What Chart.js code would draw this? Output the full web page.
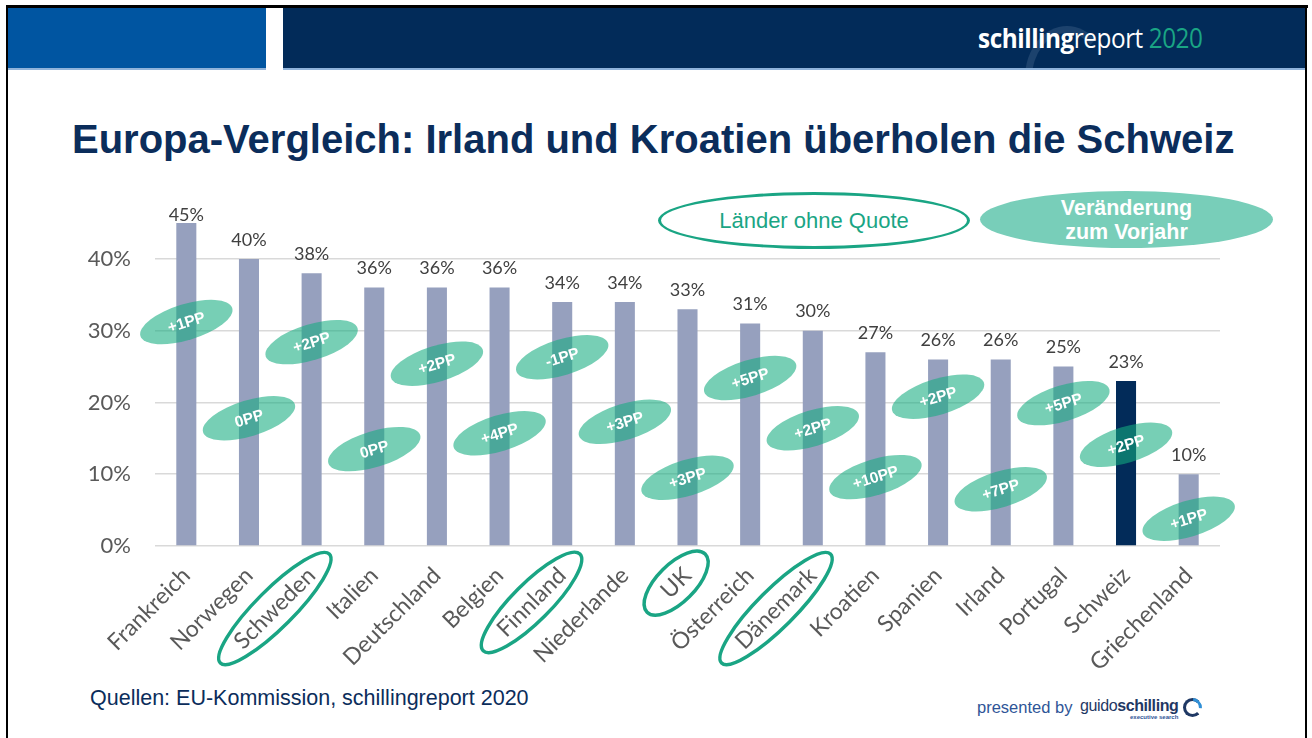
<!DOCTYPE html>
<html><head><meta charset="utf-8">
<script src="https://cdn.jsdelivr.net/npm/chart.js@4.4.0/dist/chart.umd.min.js"></script>
<style>
html,body{margin:0;padding:0;background:#fff;}
#page{position:relative;width:1312px;height:738px;overflow:hidden;background:#fff;font-family:"Liberation Sans",Arial,sans-serif;}
.abs{position:absolute;}
#title{left:72px;top:117px;font-weight:bold;font-size:40px;color:#0B2D5B;white-space:nowrap;}
#legQ{left:658px;top:192px;width:306px;height:51px;border:3px solid #1AA584;border-radius:50%;color:#1AA584;font-size:22px;display:flex;align-items:center;justify-content:center;}
#legV{left:980px;top:191px;width:293px;height:57px;background:#78CEB9;border-radius:50%;color:#fff;font-weight:bold;font-size:21.5px;line-height:24px;text-align:center;display:flex;align-items:center;justify-content:center;}
#src{left:90px;top:686px;font-size:21.5px;color:#0B2D5B;white-space:nowrap;}
#pres{left:977px;top:698px;font-size:16.5px;color:#2F5597;white-space:nowrap;}
#brand{left:1080px;top:697px;font-size:16px;color:#1F3864;white-space:nowrap;letter-spacing:-0.4px}
#exec{left:1130px;top:714px;font-size:6px;color:#2F5597;font-weight:bold;}
#hdrTxt{left:978px;top:19px;font-family:"Open Sans",sans-serif;font-size:27px;color:#fff;white-space:nowrap;transform:scaleX(0.9);transform-origin:left top;letter-spacing:-0.5px}
canvas{position:absolute;left:0;top:0;}
</style></head>
<body>
<div id="page">
  <div class="abs" style="left:6px;top:5px;width:1302px;height:3px;background:#000"></div>
  <div class="abs" style="left:6px;top:5px;width:2px;height:733px;background:#000"></div>
  <div class="abs" style="left:1305px;top:5px;width:2px;height:733px;background:#000"></div>
  <div class="abs" style="left:8px;top:8px;width:258px;height:60px;background:#0055A1"></div>
  <div class="abs" style="left:283px;top:8px;width:1022px;height:60px;background:#022B59;overflow:hidden">
    <div class="abs" style="left:742px;top:18px;width:70px;height:90px;border:7px solid rgba(150,170,200,0.18);border-radius:50%;border-right-color:transparent;border-bottom-color:transparent"></div>
  </div>
  <div class="abs" style="left:8px;top:68px;width:258px;height:2px;background:#8FB3DB"></div>
  <div class="abs" style="left:283px;top:68px;width:1022px;height:2px;background:#8FB3DB"></div>
  <div id="hdrTxt" class="abs"><b>schilling</b>report <span style="color:#1AA584">2020</span></div>
  <div id="title" class="abs">Europa-Vergleich: Irland und Kroatien überholen die Schweiz</div>
  <div id="legQ" class="abs">Länder ohne Quote</div>
  <div id="legV" class="abs">Veränderung<br>zum Vorjahr</div>
  <div id="src" class="abs">Quellen: EU-Kommission, schillingreport 2020</div>
  <div id="pres" class="abs">presented by</div>
  <div id="brand" class="abs">guido<b>schilling</b></div>
  <div id="exec" class="abs">executive search</div>
  <div class="abs" style="left:1183px;top:698px;width:13px;height:13px;border:3px solid #1F3864;border-radius:50%;border-right-color:transparent"></div>
  <div class="abs" style="left:1183px;top:698px;width:13px;height:13px;border:3px solid transparent;border-radius:50%;border-top-color:#2F8FD6;transform:rotate(50deg)"></div>
  <canvas id="c" width="1312" height="738"></canvas>
</div>
<script>
// ---- data ----
const categories = ['Frankreich','Norwegen','Schweden','Italien','Deutschland','Belgien','Finnland','Niederlande','UK','Österreich','Dänemark','Kroatien','Spanien','Irland','Portugal','Schweiz','Griechenland'];
const quotaValues = [45,40,38,36,36,36,34,34,33,31,30,27,26,26,25,23,10];
const changeLabels = ['+1PP','0PP','+2PP','0PP','+2PP','+4PP','-1PP','+3PP','+3PP','+5PP','+2PP','+10PP','+2PP','+7PP','+5PP','+2PP','+1PP'];
const changeLevels = [31.2,17.8,28.4,13.5,25.4,15.7,26.3,17.3,9.5,23.4,16.4,9.6,20.8,7.9,19.9,14.1,3.8];
const withoutQuota = ['Schweden','Finnland','UK','Dänemark'];
const highlightCountry = 'Schweiz';
const yTickValues = [0,10,20,30,40];
const yMax = 45;

// ---- styles ----
const barColor = '#96A0BE', highlightColor = '#022B59';
const tickFont = {family:'Lato', size:23};
const X_PAD = 16;

const overlay = {
  id:'overlay',
  afterDatasetsDraw(chart){
    const {ctx, chartArea, scales:{y}} = chart;
    const meta = chart.getDatasetMeta(0);
    ctx.save();
    ctx.font = '18px Lato'; ctx.fillStyle = '#404040';
    ctx.textAlign = 'center'; ctx.textBaseline = 'middle';
    meta.data.forEach((bar,i)=>{
      const yy = Math.max(bar.y - 19, chartArea.top - 8);
      ctx.fillText(quotaValues[i] + '%', bar.x, yy);
    });
    meta.data.forEach((bar,i)=>{
      const cy = y.getPixelForValue(changeLevels[i]);
      ctx.save();
      ctx.translate(bar.x, cy);
      ctx.rotate(-17*Math.PI/180);
      ctx.beginPath();
      ctx.ellipse(0,0,48,18,0,0,Math.PI*2);
      ctx.fillStyle = 'rgba(20,172,128,0.58)';
      ctx.fill();
      ctx.fillStyle = '#fff';
      ctx.font = 'bold 15.5px "Liberation Sans"';
      ctx.fillText(changeLabels[i], 0, 1);
      ctx.restore();
    });
    ctx.restore();
  },
  afterDraw(chart){
    const {ctx, scales:{x}} = chart;
    ctx.save();
    ctx.font = tickFont.size + 'px ' + tickFont.family;
    const lh = tickFont.size * 1.2;
    const r = -Math.PI/4;
    withoutQuota.forEach(name=>{
      const i = categories.indexOf(name);
      const w = ctx.measureText(name).width;
      const tx = x.getPixelForValue(i) + (lh/2)*Math.sin(r);
      const ty = x.top + X_PAD;
      ctx.save();
      ctx.translate(tx, ty);
      ctx.rotate(r);
      ctx.beginPath();
      ctx.ellipse(-w/2, lh/2, w/2 + 25, 19, 0, 0, Math.PI*2);
      ctx.strokeStyle = '#1AA584';
      ctx.lineWidth = 3.5;
      ctx.stroke();
      ctx.restore();
    });
    ctx.restore();
  }
};

new Chart(document.getElementById('c'), {
  type:'bar',
  data:{
    labels: categories,
    datasets:[{
      data: quotaValues,
      backgroundColor: categories.map(c => c === highlightCountry ? highlightColor : barColor),
      barPercentage: 0.64,
      categoryPercentage: 0.5
    }]
  },
  options:{
    responsive:false,
    animation:false,
    events:[],
    layout:{padding:{left:55, right:92, top:223, bottom:42}},
    plugins:{legend:{display:false}, tooltip:{enabled:false}},
    scales:{
      x:{
        grid:{display:false, drawTicks:false},
        border:{display:false},
        ticks:{color:'#595959', font:tickFont, minRotation:45, maxRotation:45, autoSkip:false, padding:X_PAD},
        afterFit(s){ s.height = 150; }
      },
      y:{
        min:0, max:yMax,
        grid:{color:'#D9D9D9', lineWidth:1.5, drawTicks:false},
        border:{display:false},
        ticks:{color:'#595959', font:{family:'Lato', size:22}, padding:24, stepSize:10, callback:v => v + '%'},
        afterBuildTicks(s){ s.ticks = yTickValues.map(v => ({value:v})); },
        afterFit(s){ s.width = 100; }
      }
    }
  },
  plugins:[overlay]
});
</script>
</body></html>
